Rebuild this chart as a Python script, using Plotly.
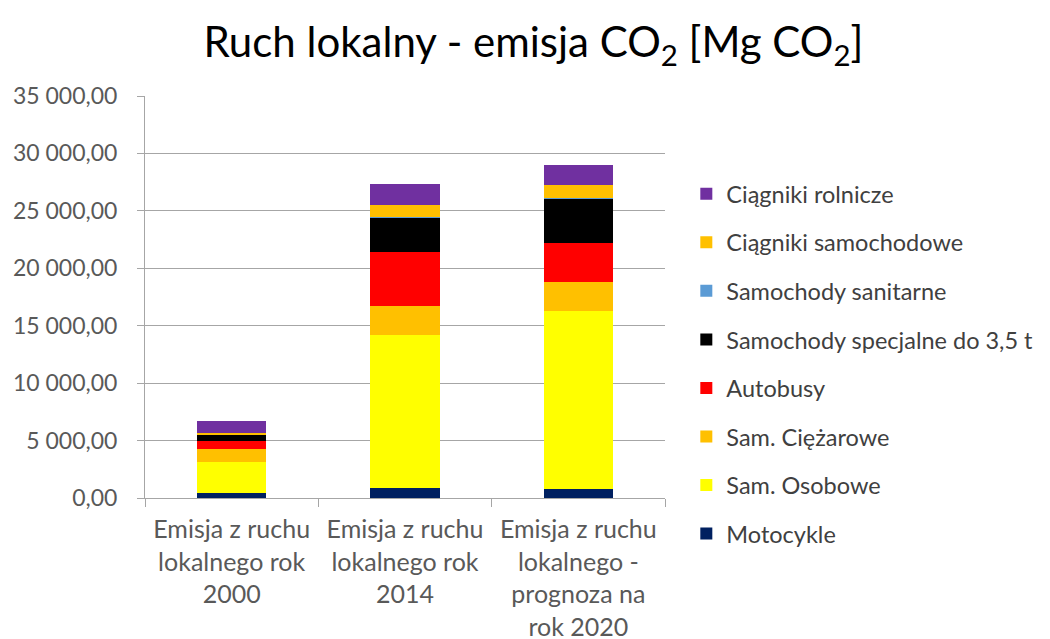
import plotly.graph_objects as go

categories = [
    "Emisja z ruchu<br>lokalnego rok<br>2000",
    "Emisja z ruchu<br>lokalnego rok<br>2014",
    "Emisja z ruchu<br>lokalnego -<br>prognoza na<br>rok 2020",
]

# stacked from bottom to top
motocykle = [410, 845, 820]
sam_osobowe = [2760, 13390, 15420]
sam_ciezarowe = [1130, 2440, 2580]
autobusy = [660, 4700, 3345]
sam_specjalne = [580, 3050, 3920]
sam_sanitarne = [20, 50, 50]
ciagniki_samochodowe = [90, 1050, 1100]
ciagniki_rolnicze = [1020, 1780, 1800]

series = [
    ("Motocykle", motocykle, "#002060"),
    ("Sam. Osobowe", sam_osobowe, "#FFFF00"),
    ("Sam. Ciężarowe", sam_ciezarowe, "#FFC000"),
    ("Autobusy", autobusy, "#FF0000"),
    ("Samochody specjalne do 3,5 t", sam_specjalne, "#000000"),
    ("Samochody sanitarne", sam_sanitarne, "#5B9BD5"),
    ("Ciągniki samochodowe", ciagniki_samochodowe, "#FFC000"),
    ("Ciągniki rolnicze", ciagniki_rolnicze, "#7030A0"),
]

FONT = "Lato, 'Open Sans', sans-serif"
GREY = "#a6a6a6"

fig = go.Figure()
for i, (name, vals, color) in enumerate(series):
    fig.add_trace(go.Bar(
        x=categories, y=vals, name=name, legendgroup=name,
        legendrank=len(series) - i,
        marker=dict(color=color, line=dict(width=0)),
    ))

fig.update_layout(
    barmode="stack",
    bargap=0.6,
    width=1050, height=639,
    plot_bgcolor="white", paper_bgcolor="white",
    margin=dict(l=145, r=385, t=96, b=141),
    font=dict(family=FONT, size=20, color="#595959"),
    title=dict(
        text="Ruch lokalny - emisja CO<sub>2</sub> [Mg CO<sub>2</sub>]",
        x=0.508, xanchor="center", y=0.934, yanchor="middle",
        font=dict(family=FONT, size=42, color="#000000"),
    ),
    legend=dict(
        x=1.041, xanchor="left", y=0.811, yanchor="top",
        traceorder="grouped", tracegroupgap=15,
        font=dict(family=FONT, size=23.5, color="#404040"),
    ),
    xaxis=dict(
        showgrid=False, showline=True, linecolor=GREY,
        ticks="outside", tickson="boundaries", tickcolor=GREY, ticklen=8,
        ticklabelstandoff=9, automargin=False,
        tickfont=dict(size=25, color="#595959"),
    ),
    yaxis=dict(
        range=[0, 35000], dtick=5000,
        tickformat=",.2f", separatethousands=True,
        showgrid=True, gridcolor=GREY, gridwidth=1,
        showline=True, linecolor=GREY,
        ticks="outside", tickcolor=GREY, ticklen=7,
        ticklabelstandoff=15, automargin=False,
        tickfont=dict(size=23, color="#595959"),
        zeroline=False,
    ),
    separators=", ",
)

# drop the browser's default 8px body margin so the figure fills the window
fig.write_html("out.html", config={"displayModeBar": False},
               post_script="document.body.style.margin='0';")
